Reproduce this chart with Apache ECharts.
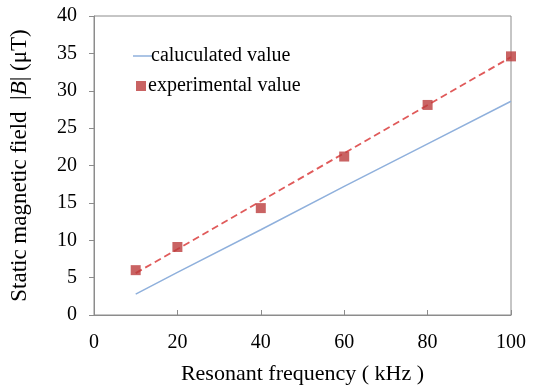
<!DOCTYPE html>
<html><head><meta charset="utf-8">
<script src="https://cdn.jsdelivr.net/npm/echarts@6/dist/echarts.min.js"></script>
<style>html,body{margin:0;padding:0;background:#fff}#c{width:535px;height:390px}</style>
</head><body><div id="c"></div>
<script>
const freqExp = [10, 20, 40, 60, 80, 100];
const bExp = [6.0, 9.1, 14.3, 21.2, 28.1, 34.6];
const freqCalc = [10, 20, 40, 60, 80, 100];
const bCalc = [2.8, 5.7, 11.4, 17.2, 22.9, 28.6];
const freqTrend = [10, 100];
const bTrend = [5.6, 34.5];
const xTicks = [0, 20, 40, 60, 80, 100];
const yTicks = [0, 5, 10, 15, 20, 25, 30, 35, 40];

const font = '"Liberation Serif", "Times New Roman", serif';
const pair = (xs, ys) => xs.map((x, i) => [x, ys[i]]);
const chart = echarts.init(document.getElementById('c'));
chart.setOption({
  animation: false,
  textStyle: {fontFamily: font},
  grid: {left: 87.5, right: 24, top: 16, bottom: 72, show: true, borderColor: '#8c8c8c', borderWidth: 1},
  legend: [
    {data: ['caluculated value'], left: 128, top: 41, icon: 'rect', itemWidth: 19, itemHeight: 1.5, itemGap: 0,
     textStyle: {fontFamily: font, fontSize: 20, color: '#000', padding: [0,0,0,-6]}},
    {data: ['experimental value'], left: 131, top: 71, icon: 'rect', itemWidth: 10, itemHeight: 10,
     textStyle: {fontFamily: font, fontSize: 20, color: '#000', padding: [0,0,0,-3]}}
  ],
  xAxis: {
    type: 'value', min: xTicks[0], max: xTicks[xTicks.length - 1], interval: 20,
    name: 'Resonant frequency ( kHz )', nameLocation: 'middle', nameGap: 48,
    nameTextStyle: {fontFamily: font, fontSize: 22, color: '#000'},
    axisLine: {lineStyle: {color: '#8c8c8c'}},
    axisTick: {inside: true, length: 5, lineStyle: {color: '#8c8c8c'}},
    axisLabel: {fontFamily: font, fontSize: 20, color: '#000', margin: 18},
    splitLine: {show: false}
  },
  yAxis: {
    type: 'value', min: yTicks[0], max: yTicks[yTicks.length - 1], interval: 5,
    name: '{a|Static magnetic field  |}{b|B}{a|| (μT)}', nameLocation: 'middle', nameGap: 63, nameRotate: 90,
    nameTextStyle: {rich: {
      a: {fontFamily: font, fontSize: 23, color: '#000'},
      b: {fontFamily: font, fontSize: 23, color: '#000', fontStyle: 'italic'}
    }},
    axisLine: {show: true, lineStyle: {color: '#8c8c8c'}},
    axisTick: {show: true, inside: false, length: 5, lineStyle: {color: '#8c8c8c'}},
    axisLabel: {fontFamily: font, fontSize: 20, color: '#000', margin: 17},
    splitLine: {show: false}
  },
  series: [
    {name: 'caluculated value', type: 'line', data: pair(freqCalc, bCalc), showSymbol: false, symbol: 'none',
     lineStyle: {color: '#8fb0dc', width: 1.5}, itemStyle: {color: '#8fb0dc'}},
    {name: 'trend', type: 'line', data: pair(freqTrend, bTrend), showSymbol: false, symbol: 'none',
     lineStyle: {color: '#e05a5a', width: 1.8, type: [7, 4]}},
    {name: 'experimental value', type: 'scatter', data: pair(freqExp, bExp), symbol: 'rect', symbolSize: 10,
     itemStyle: {color: '#bb3c3c'}, z: 5}
  ]
});
</script></body></html>
